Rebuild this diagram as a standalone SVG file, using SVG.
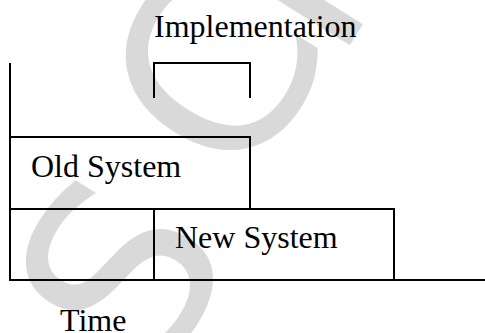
<svg xmlns="http://www.w3.org/2000/svg" width="485" height="333" viewBox="0 0 485 333">
<style>
.ln{stroke:#000;stroke-width:2;fill:none}
.lbl{font-family:"Liberation Serif","Times New Roman",serif;font-size:32px;fill:#000}
.wm{font-family:"DejaVu Sans",sans-serif;font-size:250px;fill:#d9d9d9}
</style>
<rect width="485" height="333" fill="#fff"/>
<text class="wm" transform="translate(244,192) rotate(-58)"><tspan x="-213" y="27">S</tspan><tspan x="0" y="0">C</tspan><tspan x="156" y="12">H</tspan></text>
<g id="connectors">
<path id="axes" class="ln" d="M10,63 V280 H485"/>
<path id="bracket" class="ln" d="M154,98 V63 H250 V98"/>
</g>
<g id="implementation">
<text class="lbl" x="154" y="37">Implementation</text>
</g>
<g id="old-system">
<rect class="ln" x="10" y="137" width="240" height="72"/>
<text class="lbl" x="31" y="177">Old System</text>
</g>
<g id="new-system">
<rect class="ln" x="154" y="209" width="240" height="71"/>
<text class="lbl" x="175" y="248">New System</text>
</g>
<g id="time">
<text class="lbl" x="60" y="331">Time</text>
</g>
</svg>
